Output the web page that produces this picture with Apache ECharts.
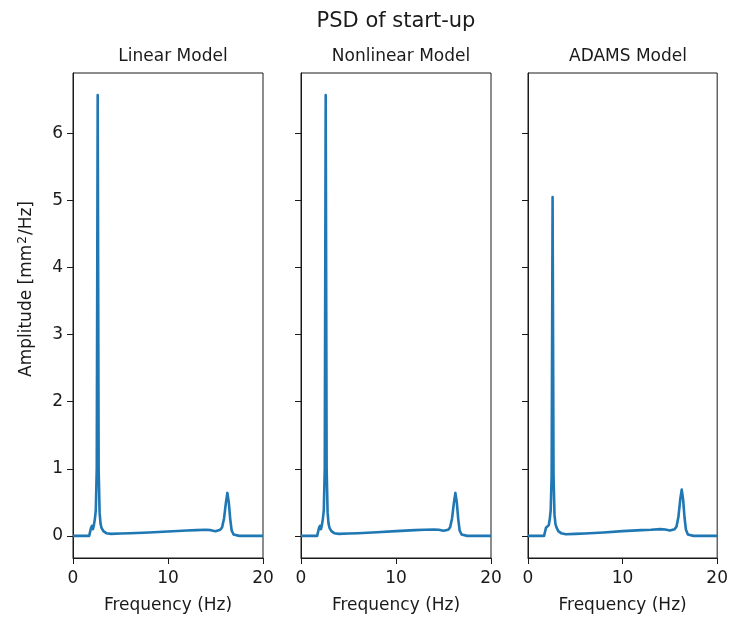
<!DOCTYPE html>
<html>
<head>
<meta charset="utf-8">
<script src="https://cdn.jsdelivr.net/npm/echarts@6/dist/echarts.min.js"></script>
<style>
  html, body { margin: 0; padding: 0; background: #fff; }
  #chart { width: 731px; height: 619px; }
</style>
</head>
<body>
<div id="chart"></div>
<script>
// Frequency bins (Hz) shared by the three PSD estimates
var freq = [0, 1.7, 1.8, 1.9, 2.0, 2.1, 2.2, 2.3, 2.4, 2.5, 2.6, 2.7, 2.8, 2.9, 3.0, 3.2, 3.5, 4.0,
            5, 6, 8, 10, 12, 13, 14, 14.5, 15, 15.5, 15.7, 15.9, 16.1, 16.25, 16.4, 16.55, 16.7, 16.9, 17.1, 17.5, 20];

// PSD amplitude [mm^2/Hz] per model
var linearPsd = [0, 0, 0.06, 0.12, 0.15, 0.10, 0.16, 0.25, 0.38, 1.0, 6.57, 1.0, 0.35, 0.18, 0.12, 0.07, 0.04, 0.03,
                 0.035, 0.04, 0.05, 0.065, 0.08, 0.085, 0.09, 0.085, 0.07, 0.09, 0.13, 0.26, 0.5, 0.64, 0.5, 0.25, 0.08, 0.02, 0.005, 0, 0];
var nonlinearPsd = [0, 0, 0.06, 0.12, 0.15, 0.10, 0.16, 0.25, 0.38, 1.0, 6.57, 1.0, 0.35, 0.18, 0.12, 0.07, 0.04, 0.03,
                    0.035, 0.04, 0.055, 0.07, 0.085, 0.09, 0.095, 0.09, 0.075, 0.09, 0.13, 0.26, 0.5, 0.64, 0.5, 0.25, 0.08, 0.02, 0.005, 0, 0];
var adamsPsd = [0, 0, 0.06, 0.12, 0.14, 0.10, 0.16, 0.25, 0.38, 0.9, 5.05, 0.9, 0.32, 0.18, 0.13, 0.07, 0.04, 0.025,
                0.03, 0.035, 0.05, 0.07, 0.085, 0.09, 0.1, 0.095, 0.08, 0.1, 0.14, 0.28, 0.55, 0.69, 0.54, 0.27, 0.09, 0.02, 0.005, 0, 0];

var panelTitles = ['Linear Model', 'Nonlinear Model', 'ADAMS Model'];
var xTicks = [0, 10, 20];
var yTicks = [0, 1, 2, 3, 4, 5, 6];

var FONT = 'DejaVu Sans';
var INK = '#1a1a1a';
var LINE = '#1f77b4';

var panels = [linearPsd, nonlinearPsd, adamsPsd];
var panelLefts = [73, 301, 528];
var panelW = 190;
var panelTop = 73;
var panelH = 486;

function pairs(values) {
  return freq.map(function (f, i) { return [f, values[i]]; });
}

var grids = [], xAxes = [], yAxes = [], series = [], titles = [];

titles.push({
  text: 'PSD of start-up',
  left: 391, top: 6, textAlign: 'center',
  textStyle: { fontFamily: FONT, fontSize: 21, fontWeight: 'normal', color: INK }
});

panels.forEach(function (vals, i) {
  grids.push({
    left: panelLefts[i], top: panelTop, width: panelW, height: panelH,
    show: true, borderColor: INK, borderWidth: 1, backgroundColor: 'transparent'
  });
  titles.push({
    text: panelTitles[i],
    left: panelLefts[i] + panelW / 2, top: 43, textAlign: 'center',
    textStyle: { fontFamily: FONT, fontSize: 17, fontWeight: 'normal', color: INK }
  });
  xAxes.push({
    gridIndex: i, type: 'value', min: 0, max: 20,
    name: 'Frequency (Hz)', nameLocation: 'middle', nameGap: 39,
    nameTextStyle: { fontFamily: FONT, fontSize: 17, color: INK },
    axisLine: { show: true, onZero: false, lineStyle: { color: INK, width: 1 } },
    axisTick: { show: true, inside: false, length: 6, lineStyle: { color: INK }, customValues: xTicks },
    axisLabel: { show: true, margin: 12, fontFamily: FONT, fontSize: 17, color: INK, customValues: xTicks },
    splitLine: { show: false }
  });
  yAxes.push({
    gridIndex: i, type: 'value', min: -0.33, max: 6.9,
    axisLine: { show: true, onZero: false, lineStyle: { color: INK, width: 1 } },
    axisTick: { show: true, inside: false, length: 6, lineStyle: { color: INK }, customValues: yTicks },
    axisLabel: { show: i === 0, margin: 10, fontFamily: FONT, fontSize: 17, color: INK, customValues: yTicks },
    splitLine: { show: false }
  });
  series.push({
    type: 'line', xAxisIndex: i, yAxisIndex: i,
    data: pairs(vals), showSymbol: false, symbol: 'none',
    lineStyle: { color: LINE, width: 2.6, join: 'round' },
    animation: false
  });
});

var chart = echarts.init(document.getElementById('chart'), null, { renderer: 'canvas' });
chart.setOption({
  animation: false,
  backgroundColor: '#fff',
  title: titles,
  grid: grids,
  xAxis: xAxes,
  yAxis: yAxes,
  series: series,
  graphic: [{
    type: 'text',
    x: 27, y: 289,
    rotation: Math.PI / 2,
    style: {
      text: '{a|Amplitude [mm}{s|2}{a|/Hz]}',
      align: 'center', verticalAlign: 'middle',
      rich: {
        a: { fontFamily: FONT, fontSize: 17, fill: INK, color: INK },
        s: { fontFamily: FONT, fontSize: 12, fill: INK, color: INK, verticalAlign: 'top', padding: [0, 1, 8, 1] }
      }
    }
  }]
});
</script>
</body>
</html>
